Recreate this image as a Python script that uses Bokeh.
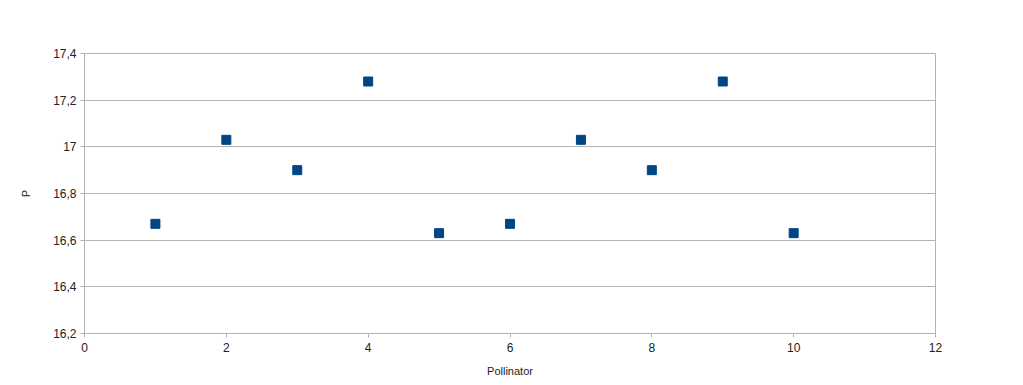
from bokeh.plotting import figure
from bokeh.embed import file_html
from bokeh.resources import INLINE
from bokeh.models import Range1d, FixedTicker, CustomJSTickFormatter

pollinator = [1, 2, 3, 4, 5, 6, 7, 8, 9, 10]
p_values = [16.67, 17.03, 16.90, 17.28, 16.63, 16.67, 17.03, 16.90, 17.28, 16.63]
x_ticks = [0, 2, 4, 6, 8, 10, 12]
y_ticks = [16.2, 16.4, 16.6, 16.8, 17.0, 17.2, 17.4]

FONT = "Liberation Sans"
GRID = "#b3b3b3"
TXT = "#222222"

p = figure(width=1023, height=385, output_backend="svg", toolbar_location=None,
           x_range=Range1d(0, 12), y_range=Range1d(16.2, 17.4),
           min_border_left=84, min_border_right=88, min_border_top=53, min_border_bottom=52)

p.scatter(pollinator, p_values, marker="square", size=9, line_width=1,
          fill_color="#004586", line_color="#004586", line_join="miter")

p.xaxis.ticker = FixedTicker(ticks=x_ticks)
p.yaxis.ticker = FixedTicker(ticks=y_ticks)
p.yaxis.formatter = CustomJSTickFormatter(code="""
var s = (Math.round(tick*10)/10).toString();
return s.replace('.', ',');
""")

for ax in (p.xaxis, p.yaxis):
    ax.axis_line_color = GRID
    ax.major_tick_line_color = GRID
    ax.major_tick_out = 4
    ax.major_tick_in = 0
    ax.minor_tick_line_color = None
    ax.major_label_text_font = FONT
    ax.major_label_text_font_size = "12px"
    ax.major_label_text_color = TXT
    ax.axis_label_text_font = FONT
    ax.axis_label_text_font_size = "11px"
    ax.axis_label_text_font_style = "normal"
    ax.axis_label_text_color = TXT

p.xaxis.axis_label = "Pollinator"
p.yaxis.axis_label = "P"
p.xaxis.major_label_standoff = 5
p.yaxis.major_label_standoff = 4
p.xaxis.axis_label_standoff = 10
p.yaxis.axis_label_standoff = 18

p.xgrid.grid_line_color = None
p.ygrid.grid_line_color = GRID
p.outline_line_color = GRID
p.background_fill_color = "white"
p.border_fill_color = "white"

open("out.html", "w").write(file_html(p, INLINE))
